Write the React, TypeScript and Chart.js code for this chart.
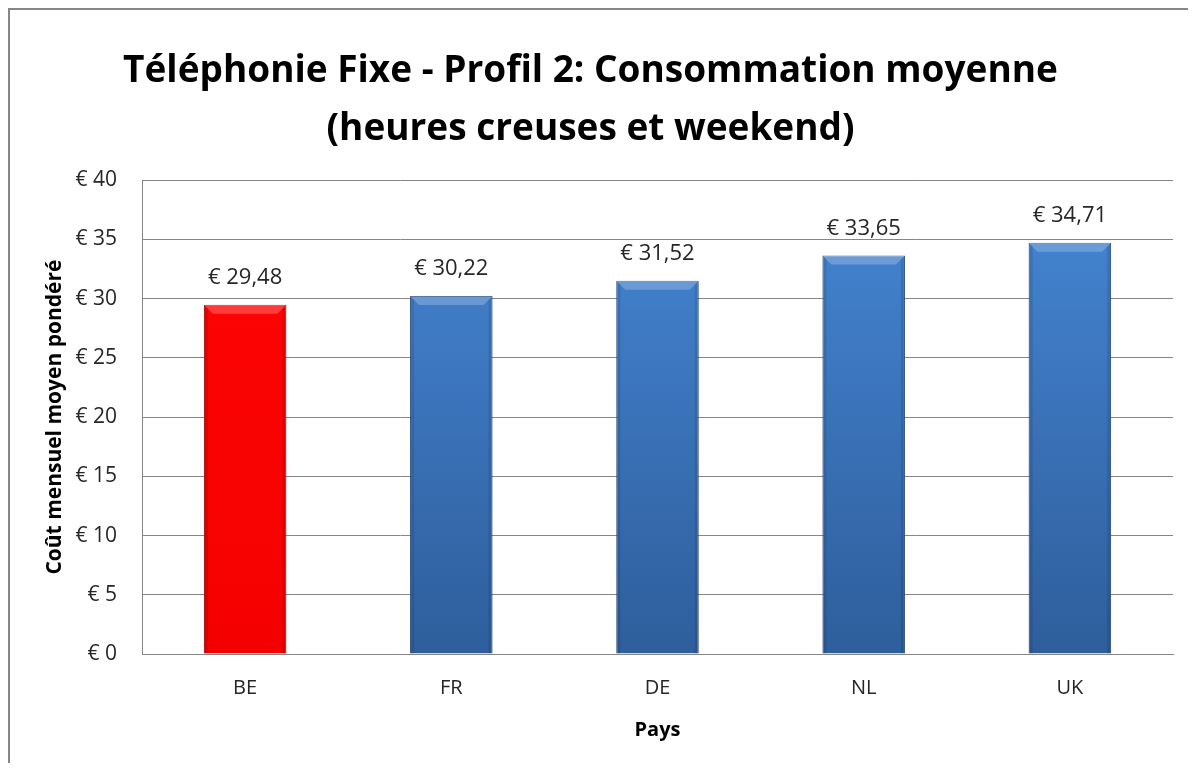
import React, { useEffect, useRef } from 'react';
import { Chart, registerables } from 'chart.js';

Chart.register(...registerables);

const titleLines = ['Téléphonie Fixe - Profil 2: Consommation moyenne', '(heures creuses et weekend)'];
const categories = ['BE', 'FR', 'DE', 'NL', 'UK'];
const values = [29.48, 30.22, 31.52, 33.65, 34.71];
const valueLabels = ['€ 29,48', '€ 30,22', '€ 31,52', '€ 33,65', '€ 34,71'];
const highlighted = ['BE'];
const yTitle = 'Coût mensuel moyen pondéré';
const xTitle = 'Pays';
const yMin = 0;
const yMax = 40;
const yStep = 5;

const FONT = '"Open Sans", Lato, "DejaVu Sans", sans-serif';

const frame = {
  id: 'frame',
  beforeDraw(chart: any) {
    const { ctx, width, height } = chart;
    ctx.save();
    ctx.fillStyle = '#ffffff';
    ctx.fillRect(0, 0, width, height);
    ctx.strokeStyle = '#868686';
    ctx.lineWidth = 2;
    ctx.beginPath();
    ctx.moveTo(1, height + 5);
    ctx.lineTo(1, 1);
    ctx.lineTo(width + 5, 1);
    ctx.stroke();
    ctx.restore();
  },
};

const bevel = {
  id: 'bevel',
  afterDatasetsDraw(chart: any) {
    const { ctx } = chart;
    const meta = chart.getDatasetMeta(0);
    ctx.save();
    meta.data.forEach((bar: any) => {
      const w = bar.width;
      const l = bar.x - w / 2;
      const r = bar.x + w / 2;
      const t = bar.y;
      const b = bar.base;
      const bt = 9;
      const bs = 4;
      ctx.fillStyle = 'rgba(255,255,255,0.22)';
      ctx.beginPath();
      ctx.moveTo(l, t);
      ctx.lineTo(r, t);
      ctx.lineTo(r - bt, t + bt);
      ctx.lineTo(l + bt, t + bt);
      ctx.closePath();
      ctx.fill();
      ctx.fillStyle = 'rgba(0,0,0,0.10)';
      ctx.beginPath();
      ctx.moveTo(l, t);
      ctx.lineTo(l + bs, t + bs);
      ctx.lineTo(l + bs, b);
      ctx.lineTo(l, b);
      ctx.closePath();
      ctx.fill();
      ctx.beginPath();
      ctx.moveTo(r, t);
      ctx.lineTo(r - bs, t + bs);
      ctx.lineTo(r - bs, b);
      ctx.lineTo(r, b);
      ctx.closePath();
      ctx.fill();
    });
    ctx.restore();
  },
};

const dataLabels = {
  id: 'dataLabels',
  afterDatasetsDraw(chart: any) {
    const { ctx } = chart;
    const meta = chart.getDatasetMeta(0);
    ctx.save();
    ctx.font = `22px ${FONT}`;
    ctx.fillStyle = '#262626';
    ctx.textAlign = 'center';
    ctx.textBaseline = 'middle';
    meta.data.forEach((bar: any, i: number) => {
      ctx.fillText(valueLabels[i], bar.x, bar.y - 27);
    });
    ctx.restore();
  },
};

export default function App() {
  const ref = useRef<HTMLCanvasElement | null>(null);

  useEffect(() => {
    if (!ref.current) return;
    const chart = new Chart(ref.current, {
      type: 'bar',
      data: {
        labels: categories,
        datasets: [
          {
            data: values,
            backgroundColor: (c: any) => {
              const area = c.chart.chartArea;
              const isHi = highlighted.includes(categories[c.dataIndex]);
              if (!area) return isHi ? '#ff0000' : '#3a70b4';
              const g = c.chart.ctx.createLinearGradient(0, area.top, 0, area.bottom);
              if (isHi) {
                g.addColorStop(0, '#ff0505');
                g.addColorStop(1, '#f50000');
              } else {
                g.addColorStop(0, '#4587d6');
                g.addColorStop(0.5, '#3a72b8');
                g.addColorStop(1, '#2e5e9c');
              }
              return g;
            },
            borderColor: (c: any) =>
              highlighted.includes(categories[c.dataIndex]) ? '#b00000' : '#2b5283',
            borderWidth: 1,
            barPercentage: 0.4,
            categoryPercentage: 1,
          },
        ],
      },
      options: {
        animation: false,
        responsive: false,
        maintainAspectRatio: false,
        layout: { padding: { top: 0, left: 0, right: 15, bottom: 0 } },
        plugins: {
          legend: { display: false },
          tooltip: { enabled: false },
          title: {
            display: true,
            text: titleLines,
            color: '#000000',
            font: { family: FONT, size: 37, weight: 'bold', lineHeight: 1.57 },
            padding: { top: 34, bottom: 22 },
          },
        },
        scales: {
          x: {
            grid: { display: false, drawTicks: false },
            border: { display: true, color: '#868686', width: 1 },
            ticks: { color: '#262626', font: { family: FONT, size: 20 }, padding: 22 },
            title: {
              display: true,
              text: xTitle,
              color: '#000000',
              font: { family: FONT, size: 20, weight: 'bold', lineHeight: 1.2 },
              padding: { top: 0, bottom: 21 },
            },
            afterFit: (s: any) => {
              s.height = 109;
            },
          },
          y: {
            min: yMin,
            max: yMax,
            grid: { color: '#868686', lineWidth: 1, drawTicks: false },
            border: { display: true, color: '#868686', width: 1 },
            ticks: {
              stepSize: yStep,
              color: '#262626',
              font: { family: FONT, size: 21 },
              padding: 25,
              callback: (v: any) => '€ ' + v,
            },
            title: {
              display: true,
              text: yTitle,
              color: '#000000',
              font: { family: FONT, size: 21, weight: 'bold', lineHeight: 1.2 },
              padding: { top: 34, bottom: 0 },
            },
            afterFit: (s: any) => {
              s.width = 134;
            },
          },
        },
      },
      plugins: [frame, bevel, dataLabels],
    });
    return () => chart.destroy();
  }, []);

  return (
    <div style={{ width: 1180, height: 755 }}>
      <canvas ref={ref} width={1180} height={755} style={{ display: 'block', width: 1180, height: 755 }} />
    </div>
  );
}
